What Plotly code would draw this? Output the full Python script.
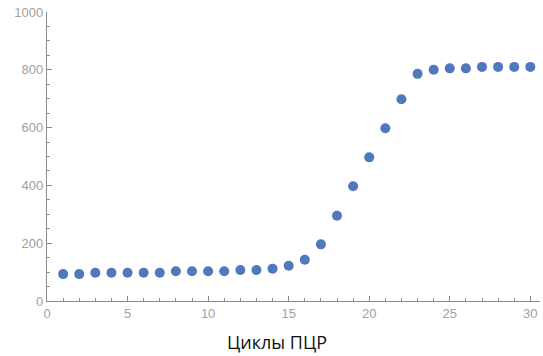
import plotly.graph_objects as go

cycles = list(range(1, 31))
fluorescence = [93, 93, 98, 98, 98, 98, 98, 103, 103, 103, 103, 107, 107, 112, 122,
                143, 196, 295, 397, 497, 598, 698, 786, 800, 805, 805, 810, 810, 810, 810]
x_ticks = [0, 5, 10, 15, 20, 25, 30]
y_ticks = [0, 200, 400, 600, 800, 1000]
x_title = "Циклы ПЦР"

fig = go.Figure(go.Scatter(
    x=cycles, y=fluorescence, mode="markers",
    marker=dict(color="#4f78bd", size=10, line=dict(width=0)),
))

axis_common = dict(
    showgrid=False, zeroline=False, showline=True, linecolor="#8c8c8c", linewidth=1.3,
    ticks="inside", ticklen=5, tickcolor="#8c8c8c", tickwidth=1, automargin=False,
    tickfont=dict(family="Liberation Sans, Arial", size=13, color="#a0a0a0"),
)

fig.update_xaxes(
    range=[0, 30.6], tickmode="array", tickvals=x_ticks, ticktext=[str(v) for v in x_ticks],
    minor=dict(dtick=1, ticks="inside", ticklen=3, tickcolor="#8c8c8c", showgrid=False),
    **axis_common,
)
fig.update_yaxes(
    range=[0, 1000], tickmode="array", tickvals=y_ticks, ticktext=[str(v) for v in y_ticks],
    minor=dict(dtick=50, ticks="inside", ticklen=3, tickcolor="#8c8c8c", showgrid=False),
    **axis_common,
)

fig.add_annotation(
    text=x_title, xref="paper", yref="paper", x=0.4675, y=-0.142,
    xanchor="center", yanchor="middle", showarrow=False,
    font=dict(family="Open Sans, Noto Sans", size=18, color="#111"),
)

fig.update_layout(
    width=543, height=356,
    margin=dict(l=47, r=3, t=12, b=55),
    plot_bgcolor="white", paper_bgcolor="white",
    showlegend=False,
)

fig.write_html("out.html", config={"displayModeBar": False},
               post_script="document.body.style.margin='0';")
